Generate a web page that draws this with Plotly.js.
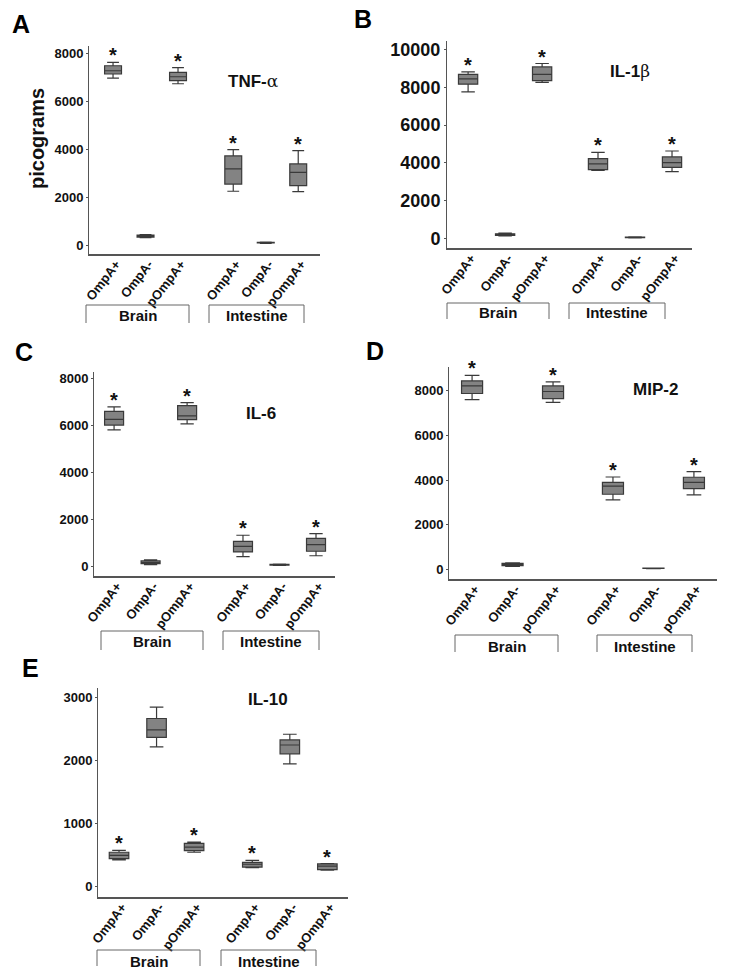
<!DOCTYPE html>
<html>
<head>
<meta charset="utf-8">
<script src="https://cdn.plot.ly/plotly-3.0.1.min.js"></script>
<style>
html,body{margin:0;padding:0;background:#fff;}
#chart{width:729px;height:979px;}
</style>
</head>
<body>
<div id="chart"></div>
<script>
// ---------- data ----------
const categories = ["OmpA+", "OmpA-", "pOmpA+", "OmpA+", "OmpA-", "pOmpA+"];
const groups = ["Brain", "Intestine"];
const starred = [true, false, true, true, false, true];

// A: TNF-alpha
const tnfLow  = [6950, 310, 6720, 2240, 70, 2220];
const tnfQ1   = [7125, 330, 6850, 2540, 85, 2470];
const tnfMed  = [7260, 370, 7010, 3170, 100, 3030];
const tnfQ3   = [7470, 410, 7190, 3710, 110, 3380];
const tnfHigh = [7610, 430, 7390, 3970, 125, 3930];

// B: IL-1beta
const il1Low  = [7750, 150, 8250, 3600, 40, 3540];
const il1Q1   = [8160, 180, 8350, 3650, 55, 3770];
const il1Med  = [8440, 230, 8680, 3950, 70, 4020];
const il1Q3   = [8680, 260, 9070, 4230, 85, 4320];
const il1High = [8810, 290, 9250, 4560, 100, 4630];

// C: IL-6
const il6Low  = [5800, 70, 6050, 410, 40, 450];
const il6Q1   = [6000, 110, 6230, 610, 55, 640];
const il6Med  = [6240, 160, 6390, 850, 70, 920];
const il6Q3   = [6580, 230, 6830, 1060, 80, 1190];
const il6High = [6770, 280, 6950, 1320, 95, 1390];

// D: MIP-2
const mipLow  = [7600, 150, 7470, 3120, 45, 3340];
const mipQ1   = [7870, 180, 7640, 3370, 52, 3620];
const mipMed  = [8210, 240, 7960, 3730, 60, 3900];
const mipQ3   = [8430, 280, 8210, 3900, 66, 4130];
const mipHigh = [8680, 310, 8390, 4140, 72, 4380];

// E: IL-10
const il10Low  = [420, 2210, 540, 295, 1940, 255];
const il10Q1   = [440, 2360, 565, 305, 2100, 265];
const il10Med  = [490, 2480, 620, 350, 2240, 320];
const il10Q3   = [540, 2660, 680, 380, 2320, 355];
const il10High = [570, 2840, 700, 410, 2410, 360];

// ---------- layout helpers ----------
const W = 729, H = 979;
const px = v => v / W;
const py = v => 1 - v / H;
const FONT = "Liberation Sans, Arial, sans-serif";
const greek = c => "<span style='font-family:DejaVu Serif;font-weight:normal'>" + c + "</span>";

const panels = [
  {letter: "A", title: "TNF-" + greek("α"), low: tnfLow, q1: tnfQ1, med: tnfMed, q3: tnfQ3, high: tnfHigh,
   xdom: [89, 320], ydom: [46, 254], yrange: [-375, 8292], dtick: 2000, offset: 3.7, xr: [-0.74, 6.37],
   titlePos: [253, 81], letterPos: [21, 24], tickSize: 13,
   br: {brain: [86, 189], intes: [209, 304], top: 305, bottom: 323, text: 316}},
  {letter: "B", title: "IL-1" + greek("β"), low: il1Low, q1: il1Q1, med: il1Med, q3: il1Q3, high: il1High,
   xdom: [447, 692], ydom: [41, 248], yrange: [-491, 10439], dtick: 2000, offset: 3.51, xr: [-0.57, 6.05],
   titlePos: [630, 71], letterPos: [363, 19], tickSize: 18,
   br: {brain: [447, 549], intes: [569, 665], top: 303, bottom: 319, text: 313}},
  {letter: "C", title: "IL-6", low: il6Low, q1: il6Q1, med: il6Med, q3: il6Q3, high: il6High,
   xdom: [94, 335], ydom: [372, 576], yrange: [-411, 8255], dtick: 2000, offset: 3.53, xr: [-0.55, 6.05],
   titlePos: [261, 413], letterPos: [24, 352], tickSize: 13,
   br: {brain: [101, 203], intes: [223, 319], top: 631, bottom: 650, text: 641}},
  {letter: "D", title: "MIP-2", low: mipLow, q1: mipQ1, med: mipMed, q3: mipQ3, high: mipHigh,
   xdom: [449, 717], ydom: [367, 579], yrange: [-416, 9054], dtick: 2000, offset: 3.48, xr: [-0.57, 6.05],
   titlePos: [655, 389], letterPos: [375, 351], tickSize: 13,
   br: {brain: [455, 558], intes: [597, 692], top: 635, bottom: 652, text: 646}},
  {letter: "E", title: "IL-10", low: il10Low, q1: il10Q1, med: il10Med, q3: il10Q3, high: il10High,
   xdom: [98, 348], ydom: [688, 897], yrange: [-169, 3143], dtick: 1000, offset: 3.55, xr: [-0.56, 6.1],
   titlePos: [268, 699], letterPos: [30, 668], tickSize: 13,
   br: {brain: [97, 200], intes: [221, 316], top: 950, bottom: 966, text: 961}}
];

const traces = [];
const layout = {
  width: W, height: H,
  margin: {l: 0, r: 0, t: 0, b: 0},
  paper_bgcolor: "#fff", plot_bgcolor: "rgba(0,0,0,0)",
  showlegend: false,
  font: {family: FONT, color: "#111"},
  annotations: [], shapes: []
};

panels.forEach((p, k) => {
  const n = k + 1;
  const xa = "x" + (n === 1 ? "" : n), ya = "y" + (n === 1 ? "" : n);
  const xk = "xaxis" + (n === 1 ? "" : n), yk = "yaxis" + (n === 1 ? "" : n);
  const xpos = categories.map((c, i) => (i < 3 ? i : p.offset + (i - 3)));

  traces.push({
    type: "box", xaxis: xa, yaxis: ya,
    x: xpos, q1: p.q1, median: p.med, q3: p.q3, lowerfence: p.low, upperfence: p.high,
    width: 0.52, whiskerwidth: 0.7, boxpoints: false,
    fillcolor: "#838383", line: {color: "#3a3a3a", width: 1.2},
    hoverinfo: "skip"
  });

  layout[xk] = {
    domain: [px(p.xdom[0]), px(p.xdom[1])], anchor: ya, range: p.xr,
    showgrid: false, zeroline: false, showline: true, linecolor: "#555", linewidth: 1.6,
    tickmode: "array", tickvals: xpos, ticktext: categories, tickangle: -52, ticks: "",
    ticklabelstandoff: -4, ticklabelshift: 3,
    tickfont: {family: FONT, size: 13, weight: "bold", color: "#111"}, fixedrange: true
  };
  layout[yk] = {
    domain: [py(p.ydom[1]), py(p.ydom[0])], anchor: xa, range: p.yrange,
    showgrid: false, zeroline: false, showline: true, linecolor: "#555", linewidth: 1,
    tick0: 0, dtick: p.dtick, ticks: "outside", ticklen: 2, tickcolor: "#555",
    tickformat: "d", exponentformat: "none",
    tickfont: {family: FONT, size: p.tickSize, weight: "bold", color: "#111"}, fixedrange: true
  };

  // significance stars
  xpos.forEach((xv, i) => {
    if (starred[i]) {
      layout.annotations.push({
        xref: xa, yref: ya, x: xv, y: p.high[i], text: "*", showarrow: false,
        yanchor: "bottom", yshift: -6, font: {family: FONT, size: 20, weight: "bold", color: "#111"}
      });
    }
  });

  // cytokine title
  layout.annotations.push({
    xref: "paper", yref: "paper", x: px(p.titlePos[0]), y: py(p.titlePos[1]),
    xanchor: "center", yanchor: "middle", text: p.title, showarrow: false,
    font: {family: FONT, size: 17, weight: "bold", color: "#111"}
  });
  // panel letter
  layout.annotations.push({
    xref: "paper", yref: "paper", x: px(p.letterPos[0]), y: py(p.letterPos[1]),
    xanchor: "center", yanchor: "middle", text: p.letter, showarrow: false,
    font: {family: FONT, size: 25, weight: "bold", color: "#000"}
  });

  // group brackets
  [p.br.brain, p.br.intes].forEach((span, g) => {
    layout.shapes.push({
      type: "path", xref: "paper", yref: "paper",
      path: "M " + px(span[0]) + " " + py(p.br.bottom) + " L " + px(span[0]) + " " + py(p.br.top) +
            " L " + px(span[1]) + " " + py(p.br.top) + " L " + px(span[1]) + " " + py(p.br.bottom),
      line: {color: "#666", width: 1}
    });
    layout.annotations.push({
      xref: "paper", yref: "paper", x: px((span[0] + span[1]) / 2), y: py(p.br.text),
      xanchor: "center", yanchor: "middle", text: groups[g], showarrow: false,
      font: {family: FONT, size: 15, weight: "bold", color: "#111"}
    });
  });
});

// y-axis title (panel A)
layout.annotations.push({
  xref: "paper", yref: "paper", x: px(37), y: py(139), xanchor: "center", yanchor: "middle",
  text: "picograms", textangle: -90, showarrow: false,
  font: {family: FONT, size: 20, weight: "bold", color: "#111"}
});

Plotly.newPlot("chart", traces, layout, {staticPlot: true, displayModeBar: false});
</script>
</body>
</html>
